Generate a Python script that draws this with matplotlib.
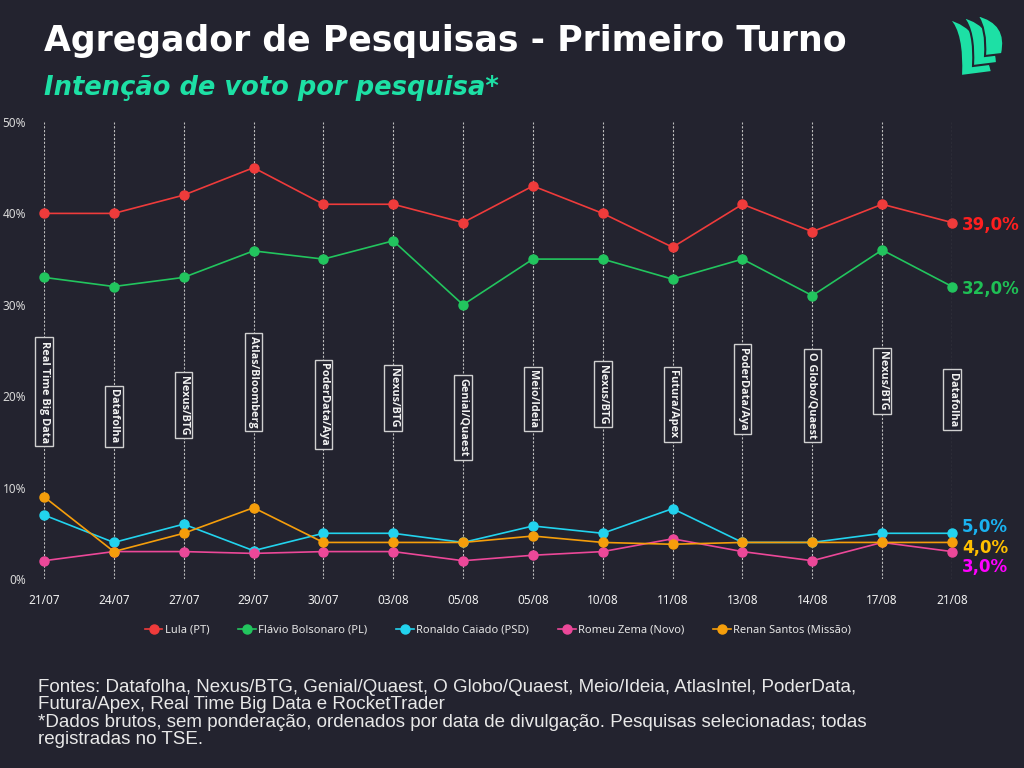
import numpy as np
import matplotlib
matplotlib.use("Agg")
from matplotlib import pyplot as plt
from matplotlib.path import Path
from matplotlib.patches import PathPatch

# ---- data ----
dates = ["21/07", "24/07", "27/07", "29/07", "30/07", "03/08", "05/08",
         "05/08", "10/08", "11/08", "13/08", "14/08", "17/08", "21/08"]
polls = ["Real Time Big Data", "Datafolha", "Nexus/BTG", "Atlas/Bloomberg",
         "PoderData/Aya", "Nexus/BTG", "Genial/Quaest", "Meio/Ideia",
         "Nexus/BTG", "Futura/Apex", "PoderData/Aya", "O Globo/Quaest",
         "Nexus/BTG", "Datafolha"]
poll_label_y = [20.5, 17.8, 19.0, 21.6, 19.1, 19.8, 17.7, 19.7, 20.2, 19.1,
                20.8, 20.1, 21.7, 19.6]

lula = [40, 40, 42, 45, 41, 41, 39, 43, 40, 36.3, 41, 38, 41, 39]
flavio = [33, 32, 33, 35.9, 35, 37, 30, 35, 35, 32.8, 35, 31, 36, 32]
caiado = [7, 4, 6, 3.1, 5, 5, 4, 5.8, 5, 7.7, 4, 4, 5, 5]
zema = [2, 3, 3, 2.8, 3, 3, 2, 2.6, 3, 4.4, 3, 2, 4, 3]
renan = [9, 3, 5, 7.8, 4, 4, 4, 4.7, 4, 3.8, 4, 4, 4, 4]

names = ["Lula (PT)", "Flávio Bolsonaro (PL)", "Ronaldo Caiado (PSD)",
         "Romeu Zema (Novo)", "Renan Santos (Missão)"]
series = [lula, flavio, caiado, zema, renan]
line_colors = ["#ef3b3b", "#22c55e", "#22d3ee", "#ec4899", "#f59e0b"]
# end labels: lula, flavio, caiado, renan, zema
end_series = [lula, flavio, caiado, renan, zema]
end_label_colors = ["#ff1f1f", "#1fbf55", "#1ab2f0", "#ffc000", "#ff00ff"]
end_shift = [-2, -2, 6, -6, -15]  # pixels, to avoid overlap

BG = "#23232f"
TEAL = "#1de0a5"

plt.rcParams['font.family'] = ['Noto Sans', 'DejaVu Sans']

fig = plt.figure(figsize=(10.24, 7.68), dpi=100, facecolor=BG)
ax = fig.add_axes([44/1024, 1-579/768, (952-44)/1024, (579-122)/768])
ax.set_facecolor(BG)

x = np.arange(len(dates))
for vals, name, c in zip(series, names, line_colors):
    ax.plot(x, vals, color=c, lw=1.2, marker='o', ms=6.5, label=name,
            clip_on=False, zorder=3)

ax.set_xlim(0, len(dates)-1)
ax.set_ylim(0, 50)
ax.set_yticks([0, 10, 20, 30, 40, 50])
ax.set_yticklabels(["0%", "10%", "20%", "30%", "40%", "50%"])
ax.set_xticks(x)
ax.set_xticklabels(dates)
ax.tick_params(axis='y', length=0, pad=13, labelsize=8.5, labelcolor="#d8d8d8")
ax.tick_params(axis='x', length=0, pad=11, labelsize=8.5, labelcolor="#f0f0f0")
for s in ax.spines.values():
    s.set_visible(False)
ax.grid(axis='x', color="#bdbdbd", ls=(0, (2, 1.5)), lw=0.8)
ax.set_axisbelow(True)

# poll name boxes
for xi, txt, yl in zip(x, polls, poll_label_y):
    ax.text(xi, yl, txt, rotation=270, ha='center', va='center',
            fontsize=7.8, fontweight='bold', color="#f2f2f2",
            family=['Open Sans', 'DejaVu Sans'],
            bbox=dict(boxstyle='square,pad=0.3', fc=BG, ec="#d0d0d0", lw=1),
            zorder=2)

# end value labels
for vals, c, dy in zip(end_series, end_label_colors, end_shift):
    ax.annotate(f"{vals[-1]:.1f}%".replace(".", ","), xy=(x[-1], vals[-1]),
                xytext=(10, dy), textcoords='offset pixels', ha='left',
                va='center', fontsize=12, fontweight='bold', color=c,
                family='DejaVu Sans', annotation_clip=False)

leg = ax.legend(loc='center', bbox_to_anchor=(0.5, -0.112), ncol=5,
                frameon=False, fontsize=8, labelcolor="#e6e6e6",
                handlelength=1.6, columnspacing=2.6, handletextpad=0.2)

# titles
fig.text(44/1024, 1-41/768, "Agregador de Pesquisas - Primeiro Turno",
         color="white", fontsize=25, fontweight='bold', va='center',
         family='DejaVu Sans')
fig.text(44/1024, 1-88/768, "Intenção de voto por pesquisa*",
         color=TEAL, fontsize=18.5, fontweight='bold', style='italic',
         va='center', family='DejaVu Sans')

footer = ("Fontes: Datafolha, Nexus/BTG, Genial/Quaest, O Globo/Quaest, Meio/Ideia, AtlasIntel, PoderData,\n"
          "Futura/Apex, Real Time Big Data e RocketTrader\n"
          "*Dados brutos, sem ponderação, ordenados por data de divulgação. Pesquisas selecionadas; todas\n"
          "registradas no TSE.")
fig.text(38/1024, 1-679/768, footer, color="#e8e8e8", fontsize=13.5, va='top',
         linespacing=1.03, family='Liberation Sans')

# logo (three sails)
lax = fig.add_axes([0, 0, 1, 1])
lax.set_xlim(0, 1024)
lax.set_ylim(768, 0)
lax.axis('off')
for k in range(3):
    tx, ty = 949 + 14*k, 19 - 2*k
    blx, bly = 961 + 12*k, 76 - 10*k
    brx, bry = 992 + 5*k, 72 - 9*k
    verts = [(tx, ty), (tx + 32, ty + 8), (brx, bry), (blx, bly),
             (blx + 2, ty + 14), (tx, ty)]
    codes = [Path.MOVETO, Path.CURVE3, Path.CURVE3, Path.LINETO,
             Path.CURVE3, Path.CURVE3]
    lax.add_patch(PathPatch(Path(verts, codes), fc=TEAL, ec=BG, lw=1.5))

fig.savefig("out.png", dpi=100, facecolor=BG)
